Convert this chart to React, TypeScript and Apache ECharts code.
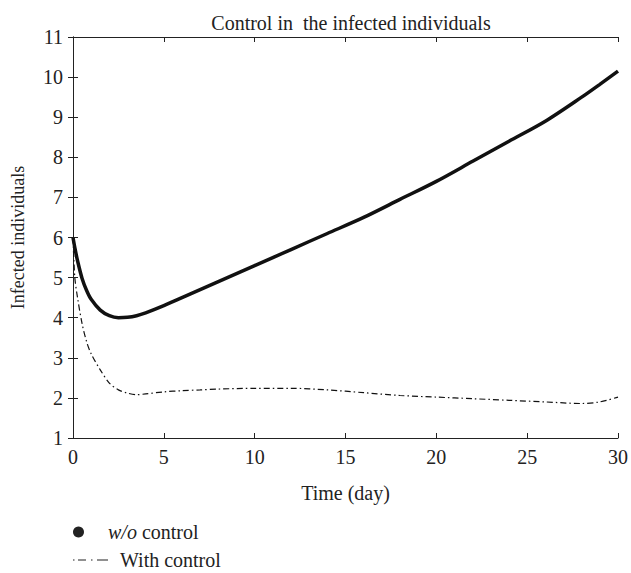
import React, { useEffect, useRef } from "react";
import * as echarts from "echarts";

const timeDays = [0, 0.1, 0.25, 0.5, 0.75, 1, 1.5, 2, 2.5, 3, 3.5, 4, 5, 6, 7, 8, 10, 12, 14, 16, 18, 20, 22, 24, 26, 28, 29, 30];
const withoutControl = [6.0, 5.75, 5.42, 4.98, 4.68, 4.46, 4.19, 4.05, 4.0, 4.01, 4.05, 4.12, 4.3, 4.5, 4.7, 4.9, 5.3, 5.7, 6.1, 6.5, 6.95, 7.4, 7.9, 8.4, 8.9, 9.5, 9.82, 10.15];
const withControl = [6.0, 5.0, 4.5, 3.85, 3.4, 3.1, 2.7, 2.37, 2.2, 2.12, 2.08, 2.1, 2.15, 2.18, 2.2, 2.22, 2.24, 2.24, 2.2, 2.13, 2.06, 2.02, 1.98, 1.94, 1.9, 1.86, 1.9, 2.02];
const xTicks = [0, 5, 10, 15, 20, 25, 30];
const yTicks = [1, 2, 3, 4, 5, 6, 7, 8, 9, 10, 11];

const FONT = "'Liberation Serif', serif";
const INK = "#222";

export default function App() {
  const ref = useRef<HTMLDivElement>(null);
  useEffect(() => {
    document.body.style.margin = "0";
    if (!ref.current) return;
    const chart = echarts.init(ref.current, undefined, { renderer: "svg" });
    const axisCommon = {
      axisLine: { show: true, lineStyle: { color: INK, width: 1 } },
      axisTick: { show: true, inside: true, length: 5, lineStyle: { color: INK } },
      splitLine: { show: false },
    };
    const legendText = {
      fontFamily: FONT,
      fontSize: 20,
      color: INK,
      rich: {
        i: { fontFamily: FONT, fontSize: 20, fontStyle: "italic", color: INK, padding: [0, 0, 0, 7] },
        n: { fontFamily: FONT, fontSize: 20, color: INK },
        p: { fontFamily: FONT, fontSize: 20, color: INK, padding: [0, 0, 0, 7] },
      },
    };
    chart.setOption({
      animation: false,
      backgroundColor: "#fff",
      title: {
        text: "Control in  the infected individuals",
        left: 346,
        textAlign: "center",
        top: 8,
        textStyle: { fontFamily: FONT, fontSize: 20, fontWeight: "normal", color: INK },
      },
      grid: { left: 73, right: 12, top: 37, bottom: 135, containLabel: false },
      legend: [
        {
          orient: "vertical",
          left: 73,
          top: 522,
          padding: 0,
          itemWidth: 35,
          itemHeight: 11,
          data: [{ name: "w/o control", icon: "circle", itemStyle: { color: INK }, textStyle: legendText }],
          formatter: () => "{i|w/o}{n| control}",
          textStyle: legendText,
        },
        {
          orient: "vertical",
          left: 73,
          top: 550,
          padding: 0,
          itemWidth: 35,
          itemHeight: 11,
          data: [
            {
              name: "With control",
              icon: "path://M0,0h1.5v1.2h-1.5z M5,0h8v1.2h-8z M18,0h1.5v1.2h-1.5z M24,0h11v1.2h-11z",
              itemStyle: { color: INK },
              textStyle: legendText,
            },
          ],
          formatter: (name: string) => "{p|" + name + "}",
          textStyle: legendText,
        },
      ],
      xAxis: [
        {
          type: "value",
          min: 0,
          max: 30,
          interval: 5,
          name: "Time (day)",
          nameLocation: "middle",
          nameGap: 45,
          nameTextStyle: { fontFamily: FONT, fontSize: 20, color: INK },
          axisLabel: { fontFamily: FONT, fontSize: 20, color: INK, margin: 9, formatter: (v: number) => (xTicks.includes(v) ? String(v) : "") },
          ...axisCommon,
        },
        {
          type: "value",
          position: "top",
          min: 0,
          max: 30,
          interval: 5,
          axisLabel: { show: false },
          ...axisCommon,
        },
      ],
      yAxis: [
        {
          type: "value",
          min: 1,
          max: 11,
          interval: 1,
          name: "Infected individuals",
          nameLocation: "middle",
          nameGap: 46,
          nameRotate: 90,
          nameTextStyle: { fontFamily: FONT, fontSize: 18, color: INK },
          axisLabel: { fontFamily: FONT, fontSize: 20, color: INK, margin: 10, formatter: (v: number) => (yTicks.includes(v) ? String(v) : "") },
          ...axisCommon,
        },
        {
          type: "value",
          position: "right",
          min: 1,
          max: 11,
          interval: 1,
          axisLabel: { show: false },
          ...axisCommon,
        },
      ],
      series: [
        {
          name: "w/o control",
          type: "line",
          smooth: 0.3,
          showSymbol: false,
          symbol: "none",
          data: timeDays.map((t, i) => [t, withoutControl[i]]),
          lineStyle: { color: "#111", width: 3.5 },
          itemStyle: { color: INK },
        },
        {
          name: "With control",
          type: "line",
          smooth: 0.3,
          showSymbol: false,
          symbol: "none",
          data: timeDays.map((t, i) => [t, withControl[i]]),
          lineStyle: { color: "#111", width: 1.2, type: [6, 3, 1.5, 3] },
          itemStyle: { color: INK },
        },
      ],
    });
    return () => chart.dispose();
  }, []);
  return <div ref={ref} style={{ width: 631, height: 573 }} />;
}
